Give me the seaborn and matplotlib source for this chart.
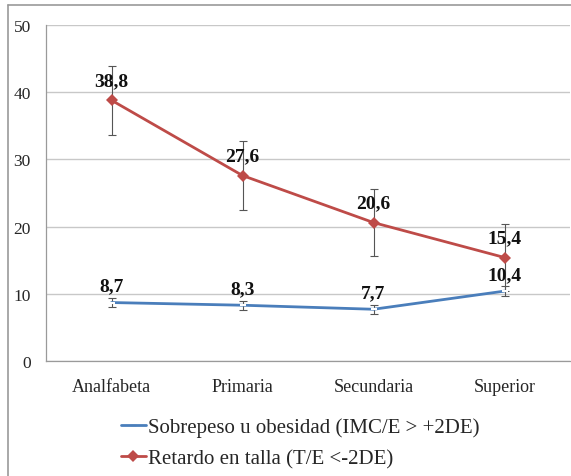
import matplotlib
matplotlib.use("Agg")
import matplotlib.pyplot as plt
from matplotlib.lines import Line2D
import seaborn as sns
import pandas as pd

# Nivel educativo
categorias = ["Analfabeta", "Primaria", "Secundaria", "Superior"]

# Prevalencias (%)
sobrepeso = [8.7, 8.3, 7.7, 10.4]
retardo = [38.8, 27.6, 20.6, 15.4]

# Intervalos de error (+/-)
err_sobrepeso = [0.7, 0.7, 0.7, 0.7]
err_retardo = [5.1, 5.1, 5.0, 5.0]

serie_sobrepeso = "Sobrepeso u obesidad (IMC/E > +2DE)"
serie_retardo = "Retardo en talla (T/E <-2DE)"
yticks = [0, 10, 20, 30, 40, 50]

azul = "#4A7EBB"
rojo = "#BE4B48"

sns.set_style("white")
plt.rcParams["font.family"] = ["Liberation Serif", "DejaVu Serif"]

df = pd.DataFrame({
    "x": list(range(len(categorias))) * 2,
    "valor": sobrepeso + retardo,
    "serie": [serie_sobrepeso] * 4 + [serie_retardo] * 4,
})

fig = plt.figure(figsize=(5.71, 4.77), dpi=100)
ax = fig.add_axes([46 / 571, 1 - 362 / 477, (570 - 46) / 571, (362 - 26) / 477])

# error bars behind the lines
ax.errorbar(range(4), sobrepeso, yerr=err_sobrepeso, fmt="none",
            ecolor="#555555", elinewidth=0.8, capsize=3, capthick=0.8, zorder=2)
ax.errorbar(range(4), retardo, yerr=err_retardo, fmt="none",
            ecolor="#555555", elinewidth=0.8, capsize=3, capthick=0.8, zorder=2)

sns.lineplot(data=df[df.serie == serie_sobrepeso], x="x", y="valor", ax=ax,
             color=azul, linewidth=2.0, marker="_", markersize=5,
             markeredgewidth=1.5, zorder=3, legend=False)
sns.lineplot(data=df[df.serie == serie_retardo], x="x", y="valor", ax=ax,
             color=rojo, linewidth=2.0, marker="D", markersize=6,
             markeredgewidth=0, zorder=3, legend=False)

# value labels
for i, v in enumerate(sobrepeso):
    ax.annotate(f"{v:.1f}".replace(".", ","), (i, v), xytext=(0, 6),
                textcoords="offset points", ha="center", va="bottom",
                fontsize=14, fontweight="bold", color="#111111", zorder=4)
for i, v in enumerate(retardo):
    ax.annotate(f"{v:.1f}".replace(".", ","), (i, v), xytext=(0, 8),
                textcoords="offset points", ha="center", va="bottom",
                fontsize=14, fontweight="bold", color="#111111", zorder=4)

ax.set_xlim(-0.5, 3.5)
ax.set_ylim(0, 50)
ax.set_yticks(yticks)
ax.set_yticklabels([str(t) for t in yticks], fontsize=12.5)
ax.set_xticks(range(4))
ax.set_xticklabels(categorias, fontsize=13)
ax.set_xticks([-0.5, 0.5, 1.5, 2.5, 3.5], minor=True)
ax.tick_params(axis="x", which="major", length=0, pad=12)
ax.tick_params(axis="x", which="minor", length=5, color="#9a9a9a", width=0.8,
               direction="out")
ax.tick_params(axis="y", length=5, color="#9a9a9a", width=0.8, pad=6,
               direction="out")
ax.set_xlabel("")
ax.set_ylabel("")
ax.grid(axis="y", color="#c8c8c8", linewidth=1.0)
ax.set_axisbelow(True)
for side in ["top", "right"]:
    ax.spines[side].set_visible(False)
for side in ["left", "bottom"]:
    ax.spines[side].set_color("#9a9a9a")
    ax.spines[side].set_linewidth(0.9)

handles = [
    Line2D([], [], color=azul, linewidth=2.0, marker="_", markersize=5),
    Line2D([], [], color=rojo, linewidth=2.0, marker="D", markersize=6,
           markeredgewidth=0),
]
fig.legend(handles, [serie_sobrepeso, serie_retardo], loc="center",
           bbox_to_anchor=(300 / 571, 1 - 444 / 477), frameon=False,
           fontsize=15, handlelength=1.2, handletextpad=0.1,
           labelspacing=0.55)

# frame lines of the page
fig.add_artist(Line2D([8 / 571, 8 / 571], [0, 1 - 6 / 477],
                      transform=fig.transFigure, color="#999999", linewidth=1.2))
fig.add_artist(Line2D([8 / 571, 1], [1 - 6 / 477, 1 - 6 / 477],
                      transform=fig.transFigure, color="#999999", linewidth=1.2))

fig.savefig("out.png", dpi=100, facecolor="white")
